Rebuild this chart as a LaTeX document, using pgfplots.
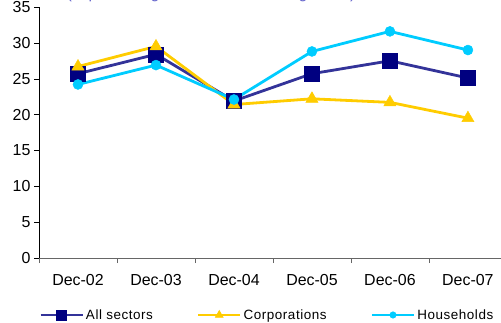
\documentclass[border=0pt]{standalone}
\usepackage{pgfplots}
\pgfplotsset{compat=1.18}
\usepackage{fontspec}
\setmainfont{Liberation Sans}
\definecolor{allsec}{RGB}{51,51,153}
\definecolor{allmark}{RGB}{0,0,128}
\definecolor{corp}{RGB}{255,204,0}
\definecolor{house}{RGB}{0,204,255}
\definecolor{titlec}{RGB}{102,102,204}
\begin{document}
\begin{tikzpicture}[x=1bp,y=1bp]
\useasboundingbox (0,0) rectangle (501,322);
\node[anchor=base,text=titlec,font=\fontsize{16}{18}\selectfont,inner sep=0pt] at (211,323.5) {(in percentage of total outstanding loans)};
\begin{axis}[
  at={(39bp,64bp)}, anchor=south west,
  scale only axis, width=464bp, height=251bp,
  xmin=-0.5, xmax=5.45, ymin=0, ymax=35,
  ytick={0,5,...,35},
  xtick={0,...,5},
  xticklabels={Dec-02,Dec-03,Dec-04,Dec-05,Dec-06,Dec-07},
  minor xtick={-0.5,0.5,...,4.5},
  axis x line*=bottom, axis y line*=left,
  x axis line style={draw=gray!80!black},
  y axis line style={draw=black},
  tick align=outside,
  major x tick style={draw=none},
  minor x tick style={draw=gray!80!black},
  minor tick length=5bp,
  major tick length=5bp,
  ytick style={draw=black},
  tick label style={font=\fontsize{16}{18}\selectfont},
  /pgf/number format/assume math mode=true,
  xticklabel style={yshift=-8bp},
  clip=false,
  legend columns=3,
  legend style={draw=none, fill=none, at={(axis description cs:0.0,-0.227)}, anchor=west,
    font=\fontsize{13.5}{15}\selectfont\addfontfeature{LetterSpace=4}, inner sep=0pt,
    /tikz/every odd column/.append style={column sep=0pt},
    /tikz/every even column/.append style={column sep=42bp},
    nodes={inner xsep=2bp}},
  legend image code/.code={\draw[#1,mark repeat=2,mark phase=2,every mark/.append style={scale=0.65}] plot coordinates {(0bp,0bp) (21bp,0bp) (42bp,0bp)};},
]
\addplot[allsec, line width=2.8bp, mark=square*, mark size=7.5bp, mark options={fill=allmark,draw=allmark,line width=0.5bp}]
  coordinates {(0,25.7) (1,28.4) (2,21.9) (3,25.7) (4,27.5) (5,25.1)};
\addlegendentry{All sectors}
\addplot[corp, line width=2.8bp, mark=triangle*, mark size=7bp, mark options={fill=corp,draw=corp,line width=0.5bp}]
  coordinates {(0,26.7) (1,29.5) (2,21.4) (3,22.2) (4,21.7) (5,19.5)};
\addlegendentry{Corporations}
\addplot[house, line width=2.8bp, mark=*, mark size=5bp, mark options={fill=house,draw=house,line width=0.5bp}]
  coordinates {(0,24.2) (1,26.9) (2,22.1) (3,28.8) (4,31.6) (5,29.0)};
\addlegendentry{Households}
\end{axis}
\end{tikzpicture}
\end{document}
